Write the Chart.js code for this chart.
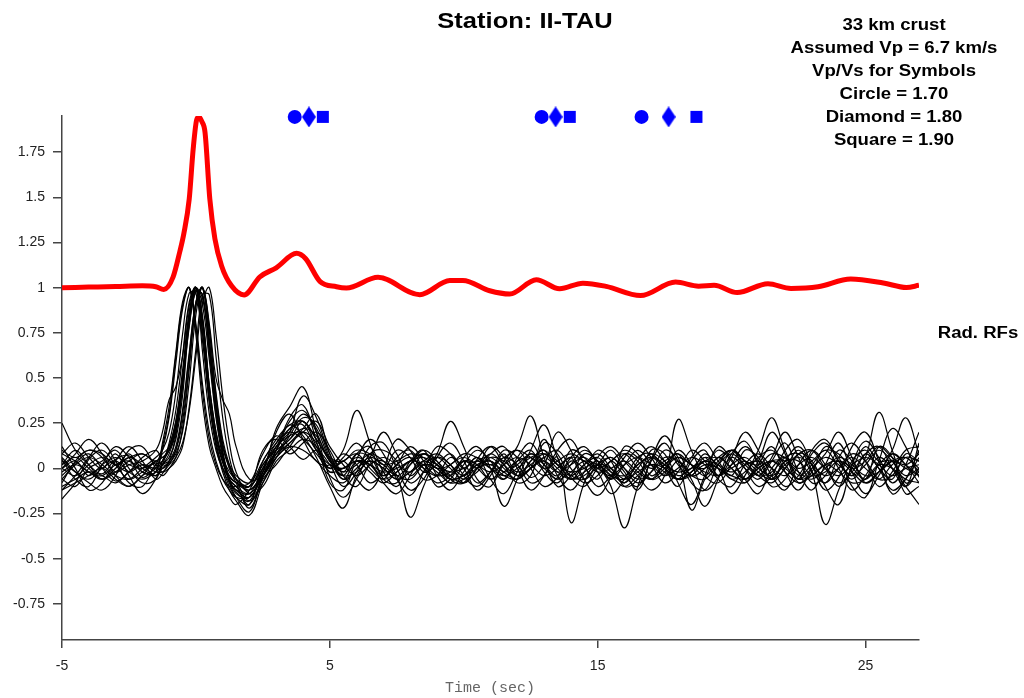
<!DOCTYPE html>
<html>
<head>
<meta charset="utf-8">
<title>Station: II-TAU</title>
<script src="https://cdn.jsdelivr.net/npm/chart.js@4.4.0/dist/chart.umd.min.js"></script>
<style>
    body { margin: 0; background: #fff; }
    #wrap { position: relative; width: 1024px; height: 698px; }
    .lbl { position: absolute; font-family: "Liberation Sans", Arial, sans-serif; font-weight: bold; color: #000; white-space: nowrap; text-align: center; transform: scaleX(1.16); transform-origin: 50% 50%; }
    #title { left: 375px; width: 300px; top: 6px; font-size: 22px; line-height: 30px; }
    #info { left: 774px; width: 240px; top: 14px; font-size: 16px; line-height: 22.9px; }
    #rad { left: 928px; width: 100px; top: 323px; font-size: 16px; line-height: 20px; }
    #xtitle { position: absolute; left: 390px; width: 200px; top: 680px; text-align: center; font-family: "Liberation Mono", "DejaVu Sans Mono", monospace; font-size: 15px; color: #666; }
</style>
</head>
<body>
<div id="wrap">
    <canvas id="rfChart" width="1024" height="698"></canvas>
    <div class="lbl" id="title">Station: II-TAU</div>
    <div class="lbl" id="info">33 km crust<br>Assumed Vp = 6.7 km/s<br>Vp/Vs for Symbols<br>Circle = 1.70<br>Diamond = 1.80<br>Square = 1.90</div>
    <div class="lbl" id="rad">Rad. RFs</div>
    <div id="xtitle">Time (sec)</div>
</div>
<script>
// ticks
var xTicks = [-5, 5, 15, 25];
var yTicks = [-0.75, -0.5, -0.25, 0, 0.25, 0.5, 0.75, 1, 1.25, 1.5, 1.75];

// predicted Ps / multiple times for Vp/Vs 1.70, 1.80, 1.90
var circleTimes = [3.69, 12.91, 16.64];
var diamondTimes = [4.22, 13.43, 17.65];
var squareTimes = [4.74, 13.96, 18.69];
var symbolLevel = 1.945;

// stacked RF (plotted at offset 1)
var stackTimes = [-5, -4, -3, -2, -1.5, -1.2, -0.85, -0.6, -0.45, -0.25,
    -0.1, 0.03, 0.12, 0.22, 0.34, 0.52, 0.71, 0.96, 1.33, 1.8,
    2.39, 3.0, 3.76, 4.1, 4.63, 5.25, 5.62, 6.8, 8.36, 9.48,
    9.97, 10.97, 11.72, 12.71, 13.58, 14.45, 15.32, 16.6, 17.91, 18.77,
    19.35, 20.21, 21.36, 22.22, 23.23, 24.45, 25.67, 26.53, 27];
var stackValues = [1.0, 1.003, 1.006, 1.01, 1.005, 0.99, 1.06, 1.2, 1.3, 1.49,
    1.77, 1.93, 1.945, 1.92, 1.86, 1.49, 1.27, 1.12, 1.01, 0.96,
    1.06, 1.11, 1.19, 1.16, 1.035, 1.005, 0.998, 1.057, 0.961, 1.039,
    1.039, 0.983, 0.965, 1.044, 0.994, 1.025, 1.007, 0.956, 1.031, 1.008,
    1.013, 0.973, 1.022, 0.996, 1.005, 1.048, 1.026, 1.001, 1.013];

// sample times for the individual radial RFs
var rfTimes = [-5, -4.5, -4, -3.5, -3, -2.5, -2, -1.5,
    -1.25, -1, -0.75, -0.5, -0.25, 0, 0.25, 0.5, 0.75, 1, 1.25, 1.5,
    2, 2.5, 3, 3.5, 4, 4.5, 5, 5.5, 6, 6.5,
    7, 7.5, 8, 8.5, 9, 9.5, 10, 10.5, 11, 11.5,
    12, 12.5, 13, 13.5, 14, 14.5, 15, 15.5, 16, 16.5,
    17, 17.5, 18, 18.5, 19, 19.5, 20, 20.5, 21, 21.5,
    22, 22.5, 23, 23.5, 24, 24.5, 25, 25.5, 26, 26.5,
    27];

var rf01 = [0.25, 0.1, 0.02, -0.03, 0.05, 0.07, 0.0, -0.04,
    0.02, 0.06, 0.16, 0.4, 0.8, 1.0, 0.8, 0.4, 0.16, 0.03, -0.07, -0.13,
    -0.18, 0.0, 0.12, 0.2, 0.3, 0.22, 0.05, -0.04, 0.08, 0.12,
    -0.02, -0.1, 0.02, 0.1, 0.04, -0.06, -0.08, 0.05, 0.12, 0.02,
    -0.08, -0.04, 0.14, 0.08, -0.05, -0.1, 0.0, 0.06, -0.02, -0.12,
    0.05, 0.18, 0.06, -0.08, -0.12, 0.02, 0.1, 0.0, -0.1, -0.04,
    0.1, 0.16, 0.02, -0.12, -0.05, 0.12, 0.2, 0.04, -0.14, -0.06,
    0.1];
var rf02 = [-0.17, -0.08, 0.05, 0.1, 0.02, -0.06, -0.02, 0.03,
    0.0, 0.03, 0.08, 0.2, 0.48, 0.85, 1.0, 0.78, 0.4, 0.14, 0.0, -0.08,
    -0.22, -0.05, 0.1, 0.28, 0.35, 0.15, -0.08, -0.12, 0.05, 0.16,
    0.08, -0.06, -0.15, -0.02, 0.12, 0.08, -0.04, -0.1, -0.02, 0.1,
    0.06, -0.05, 0.02, 0.2, 0.1, -0.06, -0.15, -0.05, 0.08, 0.04,
    -0.06, -0.02, 0.1, 0.02, -0.12, -0.05, 0.08, 0.15, 0.02, -0.1,
    -0.06, 0.08, 0.04, -0.1, -0.2, 0.02, 0.15, 0.06, -0.08, 0.02,
    0.2];
var rf03 = [0.05, -0.06, -0.1, 0.02, 0.12, 0.06, -0.05, 0.02,
    0.12, 0.3, 0.62, 0.9, 1.0, 0.78, 0.42, 0.16, 0.02, -0.06, -0.1, -0.1,
    -0.08, 0.08, 0.18, 0.12, 0.05, 0.1, 0.02, -0.1, -0.02, 0.12,
    0.14, 0.0, -0.12, -0.06, 0.06, 0.02, -0.08, 0.0, 0.12, 0.06,
    -0.04, 0.04, 0.1, -0.04, -0.12, -0.02, 0.1, 0.04, -0.1, -0.06,
    0.1, 0.08, -0.08, -0.2, -0.04, 0.12, 0.05, -0.06, 0.04, 0.2,
    0.08, -0.08, -0.02, 0.12, 0.06, -0.1, -0.16, 0.04, 0.22, 0.12,
    -0.05];
var rf04 = [-0.04, 0.03, 0.08, 0.0, -0.07, -0.02, 0.06, 0.1,
    0.06, 0.1, 0.24, 0.5, 0.82, 0.99, 0.94, 0.66, 0.34, 0.12, 0.0, -0.06,
    -0.12, -0.02, 0.22, 0.34, 0.45, 0.2, -0.05, -0.16, -0.06, 0.08,
    0.1, 0.04, -0.08, -0.02, 0.08, 0.26, 0.12, -0.06, -0.1, 0.04,
    0.1, 0.0, -0.1, -0.05, 0.06, 0.12, 0.02, -0.1, -0.33, -0.1,
    0.06, 0.02, -0.06, 0.06, 0.14, 0.04, -0.04, 0.1, 0.06, -0.06,
    0.0, 0.1, -0.02, -0.31, -0.12, 0.04, 0.1, 0.0, -0.06, 0.08,
    0.04];
var rf05 = [0.12, 0.0, -0.12, -0.08, 0.04, 0.12, 0.04, -0.06,
    -0.03, 0.04, 0.18, 0.45, 0.84, 1.0, 0.76, 0.36, 0.12, -0.02, -0.12, -0.18,
    -0.26, -0.08, 0.06, 0.14, 0.22, 0.3, 0.08, -0.06, 0.04, 0.02,
    -0.06, 0.06, 0.1, 0.0, -0.08, -0.04, 0.06, 0.12, 0.0, -0.21,
    -0.06, 0.1, 0.24, 0.06, -0.06, 0.02, 0.08, 0.0, -0.08, 0.04,
    0.12, 0.04, -0.06, -0.02, 0.08, 0.0, -0.14, -0.04, 0.1, 0.28,
    0.1, -0.04, 0.02, 0.1, 0.0, -0.12, -0.04, 0.06, 0.0, -0.1,
    -0.2];
var rf06 = [-0.08, 0.04, 0.1, 0.06, -0.04, -0.1, -0.04, 0.04,
    0.02, 0.02, 0.06, 0.14, 0.32, 0.62, 0.92, 1.0, 0.74, 0.4, 0.14, -0.02,
    -0.14, -0.1, 0.04, 0.1, 0.16, 0.12, 0.0, 0.06, 0.14, 0.04,
    -0.08, -0.14, -0.04, 0.08, 0.02, -0.04, 0.04, 0.02, -0.06, 0.02,
    0.12, 0.29, 0.06, -0.1, -0.04, 0.08, 0.04, -0.06, 0.02, 0.1,
    0.02, -0.08, -0.02, 0.1, 0.04, -0.06, -0.1, 0.02, 0.08, 0.0,
    -0.1, -0.04, 0.08, 0.14, 0.04, -0.06, 0.06, 0.31, 0.1, -0.08,
    -0.02];
var rf07 = [0.0, 0.08, 0.16, 0.08, -0.02, 0.02, 0.04, 0.1,
    0.2, 0.38, 0.45, 0.62, 0.9, 1.0, 0.64, 0.3, 0.1, 0.0, -0.05, -0.08,
    -0.1, 0.1, 0.16, 0.08, 0.14, 0.2, 0.1, -0.04, -0.1, 0.02,
    0.04, -0.04, -0.27, -0.1, 0.06, 0.14, 0.04, -0.08, -0.02, 0.06,
    0.02, -0.08, -0.04, 0.06, -0.3, -0.08, 0.06, 0.12, 0.04, -0.04,
    -0.12, -0.04, 0.27, 0.1, -0.04, -0.08, 0.02, 0.12, 0.04, -0.06,
    0.04, 0.12, 0.02, -0.08, 0.06, 0.14, 0.04, -0.1, -0.02, 0.1,
    0.12];
var rf08 = [0.06, -0.02, -0.08, -0.12, -0.04, 0.1, 0.12, 0.0,
    -0.04, 0.0, 0.06, 0.22, 0.55, 0.9, 1.0, 0.8, 0.5, 0.38, 0.3, 0.12,
    -0.06, -0.04, 0.08, 0.2, 0.4, 0.28, 0.08, -0.02, 0.08, 0.06,
    -0.04, 0.02, 0.12, 0.04, -0.1, -0.06, 0.04, 0.0, 0.08, 0.12,
    0.0, -0.12, -0.04, 0.1, 0.16, 0.02, -0.1, -0.04, 0.06, 0.14,
    0.06, -0.04, 0.04, -0.06, -0.21, -0.06, 0.1, 0.04, -0.04, 0.06,
    0.2, 0.06, -0.08, -0.04, 0.1, 0.04, -0.06, 0.12, 0.06, -0.14,
    -0.1];
var rf09 = [-0.12, -0.04, 0.06, 0.14, 0.04, -0.08, -0.1, 0.02,
    0.04, 0.1, 0.2, 0.46, 0.82, 1.0, 0.82, 0.44, 0.18, 0.04, -0.06, -0.1,
    -0.2, 0.04, 0.14, 0.24, 0.18, 0.06, -0.1, -0.22, -0.04, 0.06,
    0.2, 0.08, -0.04, 0.02, 0.0, -0.08, 0.02, 0.1, 0.04, -0.06,
    0.04, 0.1, -0.02, -0.08, 0.02, 0.1, 0.04, -0.06, 0.12, 0.08,
    -0.04, 0.02, 0.08, -0.04, 0.0, 0.1, 0.04, -0.06, -0.14, 0.0,
    0.06, -0.06, 0.1, 0.16, 0.04, -0.04, 0.08, 0.0, -0.12, -0.06,
    0.06];
var rf10 = [0.02, 0.1, 0.02, -0.06, 0.0, 0.08, -0.02, -0.02,
    0.14, 0.34, 0.64, 0.92, 1.0, 0.74, 0.36, 0.12, 0.0, -0.1, -0.16, -0.2,
    -0.12, 0.02, 0.1, 0.16, 0.26, 0.12, 0.0, 0.08, 0.02, -0.08,
    -0.02, 0.1, 0.06, -0.06, -0.04, 0.06, 0.0, -0.12, -0.04, 0.08,
    -0.04, 0.0, 0.16, 0.02, 0.06, -0.06, 0.02, 0.1, 0.0, -0.08,
    -0.02, 0.1, 0.04, -0.23, -0.06, 0.06, 0.0, -0.08, 0.02, 0.12,
    -0.02, -0.12, 0.0, 0.08, 0.2, 0.06, -0.08, -0.02, 0.1, 0.28,
    0.08];
var rf11 = [-0.06, -0.1, 0.0, 0.04, 0.1, 0.0, -0.08, -0.06,
    0.02, 0.04, 0.1, 0.26, 0.58, 0.9, 1.0, 0.72, 0.36, 0.1, -0.06, -0.14,
    -0.16, -0.02, 0.2, 0.3, 0.16, 0.04, 0.02, 0.1, 0.32, 0.14,
    -0.06, -0.08, 0.04, 0.1, -0.04, -0.12, -0.02, 0.06, 0.0, -0.06,
    0.06, 0.14, 0.02, -0.06, 0.04, 0.0, -0.06, 0.04, -0.04, -0.1,
    0.04, 0.14, 0.02, -0.04, 0.06, -0.04, 0.06, 0.0, -0.06, 0.04,
    0.14, -0.02, -0.12, 0.02, 0.14, -0.02, -0.14, -0.04, 0.08, 0.02,
    -0.08];
var rf12 = [0.08, 0.14, 0.06, 0.0, 0.08, -0.04, -0.14, -0.06,
    0.04, 0.12, 0.26, 0.54, 0.86, 1.0, 0.9, 0.6, 0.28, 0.06, -0.08, -0.16,
    -0.24, -0.06, 0.02, 0.12, 0.2, 0.14, -0.02, 0.04, -0.06, -0.12,
    0.0, 0.16, 0.1, -0.02, 0.02, 0.08, 0.0, 0.06, -0.06, -0.14,
    -0.02, 0.08, 0.02, -0.04, 0.1, 0.06, -0.02, -0.14, -0.06, 0.06,
    0.08, 0.0, -0.1, 0.04, 0.1, -0.04, 0.06, 0.2, 0.1, -0.04,
    -0.12, 0.02, 0.1, 0.02, -0.1, 0.0, 0.12, 0.04, 0.04, -0.1,
    0.14];
var rf13 = [0.0, 0.04, -0.04, 0.02, 0.06, 0.02, 0.0, 0.04,
    0.06, 0.1, 0.22, 0.48, 0.84, 1.0, 0.84, 0.46, 0.2, 0.06, -0.02, -0.06,
    -0.1, 0.02, 0.12, 0.18, 0.2, 0.1, 0.02, 0.0, 0.04, 0.02,
    -0.02, 0.0, 0.04, 0.06, 0.02, -0.02, 0.0, 0.04, 0.0, -0.04,
    0.0, 0.06, 0.08, 0.02, -0.02, 0.0, 0.04, -0.02, -0.04, 0.02,
    0.06, 0.02, -0.02, 0.0, 0.04, 0.02, -0.02, 0.02, 0.04, 0.0,
    -0.04, 0.02, 0.06, 0.0, -0.04, 0.02, 0.06, 0.02, -0.04, 0.0,
    0.02];
var rf14 = [-0.1, -0.06, -0.02, -0.04, -0.08, -0.02, 0.02, -0.02,
    -0.02, 0.02, 0.1, 0.3, 0.62, 0.92, 1.0, 0.7, 0.34, 0.08, -0.06, -0.1,
    -0.14, -0.04, 0.1, 0.22, 0.26, 0.16, 0.04, -0.04, -0.02, 0.04,
    0.0, -0.06, -0.02, 0.04, 0.0, -0.06, -0.04, 0.02, 0.04, -0.02,
    -0.06, 0.0, 0.06, 0.0, -0.06, -0.04, 0.02, 0.0, -0.06, -0.02,
    0.02, -0.02, -0.06, -0.02, 0.04, 0.0, -0.04, -0.06, 0.0, 0.04,
    0.0, -0.06, -0.04, 0.02, 0.04, -0.02, -0.08, -0.02, 0.04, 0.0,
    -0.04];
var rf15 = [0.04, -0.02, -0.06, 0.0, 0.04, -0.02, -0.06, -0.02,
    0.02, 0.08, 0.2, 0.46, 0.78, 0.98, 0.96, 0.64, 0.3, 0.08, -0.06, -0.12,
    -0.16, -0.04, 0.08, 0.16, 0.22, 0.18, 0.04, -0.02, 0.02, 0.08,
    0.04, -0.04, -0.06, 0.02, 0.06, 0.0, -0.06, -0.02, 0.06, 0.04,
    -0.02, 0.02, 0.08, 0.04, -0.04, -0.06, 0.02, 0.06, 0.0, -0.06,
    -0.02, 0.06, 0.04, -0.04, -0.06, 0.02, 0.08, 0.02, -0.04, -0.02,
    0.06, 0.08, -0.02, -0.08, 0.0, 0.08, 0.04, -0.06, -0.04, 0.06,
    0.04];
var rf16 = [-0.06, 0.02, 0.06, 0.02, -0.04, -0.06, 0.0, 0.06,
    0.1, 0.2, 0.42, 0.74, 0.97, 0.97, 0.7, 0.38, 0.14, 0.0, -0.08, -0.12,
    -0.14, 0.0, 0.14, 0.2, 0.16, 0.08, 0.0, 0.04, 0.08, 0.0,
    -0.06, -0.02, 0.04, 0.08, 0.02, -0.06, -0.04, 0.04, 0.06, 0.0,
    -0.06, 0.04, 0.1, 0.02, -0.04, 0.02, 0.06, -0.02, -0.08, 0.0,
    0.08, 0.04, -0.04, 0.0, 0.06, 0.02, -0.06, -0.02, 0.06, 0.1,
    0.02, -0.06, 0.0, 0.06, 0.02, -0.04, 0.02, 0.1, 0.04, -0.04,
    0.0];
var rf17 = [0.02, 0.06, 0.0, -0.06, -0.02, 0.04, 0.08, 0.02,
    -0.02, 0.0, 0.04, 0.12, 0.34, 0.66, 0.96, 0.96, 0.62, 0.28, 0.06, -0.06,
    -0.18, -0.08, 0.06, 0.18, 0.28, 0.24, 0.06, -0.06, 0.0, 0.06,
    0.02, -0.04, 0.02, 0.08, 0.04, -0.04, -0.08, 0.0, 0.08, 0.02,
    -0.04, 0.0, 0.06, 0.1, 0.0, -0.08, -0.04, 0.04, 0.08, 0.0,
    -0.06, 0.0, 0.06, 0.02, -0.04, 0.04, 0.1, 0.04, -0.04, -0.08,
    0.0, 0.08, 0.1, 0.0, -0.08, -0.02, 0.08, 0.12, 0.0, -0.1,
    0.0];
var rf18 = [0.0, -0.04, 0.02, 0.06, 0.02, -0.02, 0.02, 0.0,
    0.04, 0.12, 0.26, 0.5, 0.86, 1.0, 0.82, 0.46, 0.2, 0.04, -0.04, -0.08,
    -0.12, -0.02, 0.1, 0.26, 0.32, 0.2, 0.04, 0.0, 0.06, 0.02,
    -0.04, 0.02, 0.06, 0.0, -0.04, 0.02, 0.06, 0.02, -0.02, 0.02,
    0.06, 0.02, -0.04, 0.0, 0.06, 0.04, -0.02, 0.0, 0.04, -0.02,
    -0.06, 0.02, 0.06, 0.02, -0.02, -0.04, 0.02, 0.06, 0.0, -0.04,
    0.02, 0.06, 0.02, -0.04, 0.0, 0.06, 0.0, -0.06, 0.02, 0.06,
    -0.02];
var rf19 = [0.08, 0.04, -0.02, -0.04, 0.02, 0.04, -0.02, -0.04,
    0.0, 0.04, 0.12, 0.32, 0.64, 0.92, 1.0, 0.76, 0.42, 0.16, 0.02, -0.06,
    -0.1, 0.0, 0.08, 0.14, 0.2, 0.26, 0.12, 0.02, -0.04, 0.02,
    0.06, 0.02, -0.02, 0.04, 0.08, 0.02, -0.04, 0.02, 0.04, -0.02,
    0.02, 0.08, 0.04, -0.02, 0.02, 0.06, 0.0, -0.04, 0.02, 0.06,
    0.02, -0.04, 0.0, 0.06, 0.02, -0.04, 0.0, 0.04, -0.02, -0.06,
    0.04, 0.04, -0.04, -0.02, 0.04, 0.0, -0.06, 0.02, 0.08, 0.02,
    -0.04];
var rf20 = [-0.12, -0.08, -0.04, 0.0, -0.06, -0.1, -0.04, 0.0,
    0.1, 0.28, 0.58, 0.88, 1.0, 0.8, 0.46, 0.2, 0.04, -0.06, -0.12, -0.16,
    -0.16, -0.04, 0.06, 0.12, 0.1, 0.04, -0.04, -0.08, 0.0, 0.04,
    0.0, -0.06, -0.02, 0.02, -0.02, -0.08, -0.06, 0.0, 0.02, -0.04,
    -0.06, 0.0, 0.04, -0.02, -0.06, -0.02, 0.02, -0.04, -0.1, -0.04,
    0.02, 0.0, -0.06, -0.04, 0.02, 0.0, -0.06, -0.08, 0.0, 0.04,
    -0.02, -0.08, -0.04, 0.02, -0.02, -0.08, -0.06, 0.02, 0.0, -0.06,
    -0.08];
var rf21 = [0.1, 0.06, 0.1, 0.08, 0.02, 0.06, 0.08, 0.04,
    0.08, 0.12, 0.24, 0.5, 0.8, 0.98, 0.96, 0.68, 0.34, 0.12, 0.02, -0.04,
    -0.08, 0.04, 0.16, 0.24, 0.26, 0.16, 0.06, 0.04, 0.1, 0.08,
    0.02, 0.04, 0.08, 0.06, 0.0, 0.02, 0.08, 0.06, 0.02, 0.06,
    0.1, 0.06, 0.0, 0.04, 0.08, 0.04, 0.0, 0.04, 0.1, 0.06,
    0.0, 0.04, 0.08, 0.02, 0.0, 0.06, 0.1, 0.04, 0.02, 0.08,
    0.06, 0.0, 0.04, 0.1, 0.08, 0.0, 0.04, 0.12, 0.06, 0.02,
    0.08];
var rf22 = [-0.02, 0.02, -0.02, -0.06, 0.0, 0.06, 0.02, -0.04,
    0.02, 0.14, 0.32, 0.62, 0.92, 1.0, 0.74, 0.38, 0.14, 0.0, -0.1, -0.16,
    -0.2, -0.04, 0.12, 0.22, 0.24, 0.1, -0.02, 0.0, 0.04, -0.02,
    -0.08, -0.02, 0.04, 0.02, -0.04, -0.02, 0.04, 0.0, -0.06, -0.02,
    0.04, 0.06, 0.0, -0.06, -0.02, 0.04, 0.02, -0.04, -0.06, 0.02,
    0.06, 0.0, -0.06, -0.02, 0.04, 0.06, 0.0, -0.06, -0.02, 0.04,
    0.04, -0.02, -0.06, 0.0, 0.06, 0.02, -0.04, -0.02, 0.04, 0.06,
    0.0];

var radialRFs = [rf01, rf02, rf03, rf04, rf05, rf06, rf07, rf08, rf09, rf10, rf11,
    rf12, rf13, rf14, rf15, rf16, rf17, rf18, rf19, rf20, rf21, rf22];

function toPoints(xs, ys) {
    var pts = [];
    for (var i = 0; i < xs.length && i < ys.length; i++) {
        pts.push({x: xs[i], y: ys[i]});
    }
    return pts;
}

function levelPoints(xs) {
    var pts = [];
    for (var i = 0; i < xs.length; i++) {
        pts.push({x: xs[i], y: symbolLevel});
    }
    return pts;
}

// diamond marker is taller than wide, so draw it on its own canvas
function makeDiamond() {
    var c = document.createElement('canvas');
    c.width = 14;
    c.height = 21;
    var g = c.getContext('2d');
    g.fillStyle = '#0000ff';
    g.beginPath();
    g.moveTo(7, 0);
    g.lineTo(14, 10.5);
    g.lineTo(7, 21);
    g.lineTo(0, 10.5);
    g.closePath();
    g.fill();
    return c;
}

var dataArray = [];
dataArray.push({
    data: toPoints(stackTimes, stackValues),
    borderColor: '#ff0000',
    borderWidth: 5,
    pointRadius: 0,
    cubicInterpolationMode: 'monotone',
    fill: false
});
dataArray.push({
    data: levelPoints(circleTimes),
    showLine: false,
    pointStyle: 'circle',
    pointRadius: 7,
    backgroundColor: '#0000ff',
    borderWidth: 0,
    clip: false
});
dataArray.push({
    data: levelPoints(diamondTimes),
    showLine: false,
    pointStyle: makeDiamond(),
    pointRadius: 7,
    clip: false
});
dataArray.push({
    data: levelPoints(squareTimes),
    showLine: false,
    pointStyle: 'rect',
    pointRadius: 8.5,
    backgroundColor: '#0000ff',
    borderWidth: 0,
    clip: false
});
for (var k = 0; k < radialRFs.length; k++) {
    dataArray.push({
        data: toPoints(rfTimes, radialRFs[k]),
        borderColor: '#000000',
        borderWidth: 1.2,
        pointRadius: 0,
        tension: 0.4,
        fill: false
    });
}

var tickFont = {family: '"Liberation Sans", Arial, sans-serif', size: 14};

var ctx = document.getElementById('rfChart');
var rfChart = new Chart(ctx, {
    type: 'line',
    data: {datasets: dataArray},
    options: {
        responsive: false,
        animation: false,
        events: [],
        layout: {padding: {top: 116, right: 105, left: 0, bottom: 0}},
        plugins: {legend: {display: false}, tooltip: {enabled: false}},
        scales: {
            x: {
                type: 'linear',
                min: -5,
                max: 27,
                afterBuildTicks: function (axis) {
                    axis.ticks = xTicks.map(function (v) { return {value: v}; });
                },
                afterFit: function (axis) { axis.height = 58; },
                grid: {drawOnChartArea: false, color: '#444', lineWidth: 1.5, tickLength: 8},
                border: {color: '#444', width: 1.5},
                ticks: {color: '#222', font: tickFont, padding: 10, maxRotation: 0,
                    callback: function (v) { return String(v); }}
            },
            y: {
                type: 'linear',
                min: -0.95,
                max: 1.95,
                afterBuildTicks: function (axis) {
                    axis.ticks = yTicks.map(function (v) { return {value: v}; });
                },
                afterFit: function (axis) { axis.width = 62; },
                grid: {drawOnChartArea: false, color: '#444', lineWidth: 1.5, tickLength: 9},
                border: {color: '#444', width: 1.5},
                ticks: {color: '#222', font: tickFont, padding: 8,
                    callback: function (v) { return String(v); }}
            }
        }
    }
});
</script>
</body>
</html>
